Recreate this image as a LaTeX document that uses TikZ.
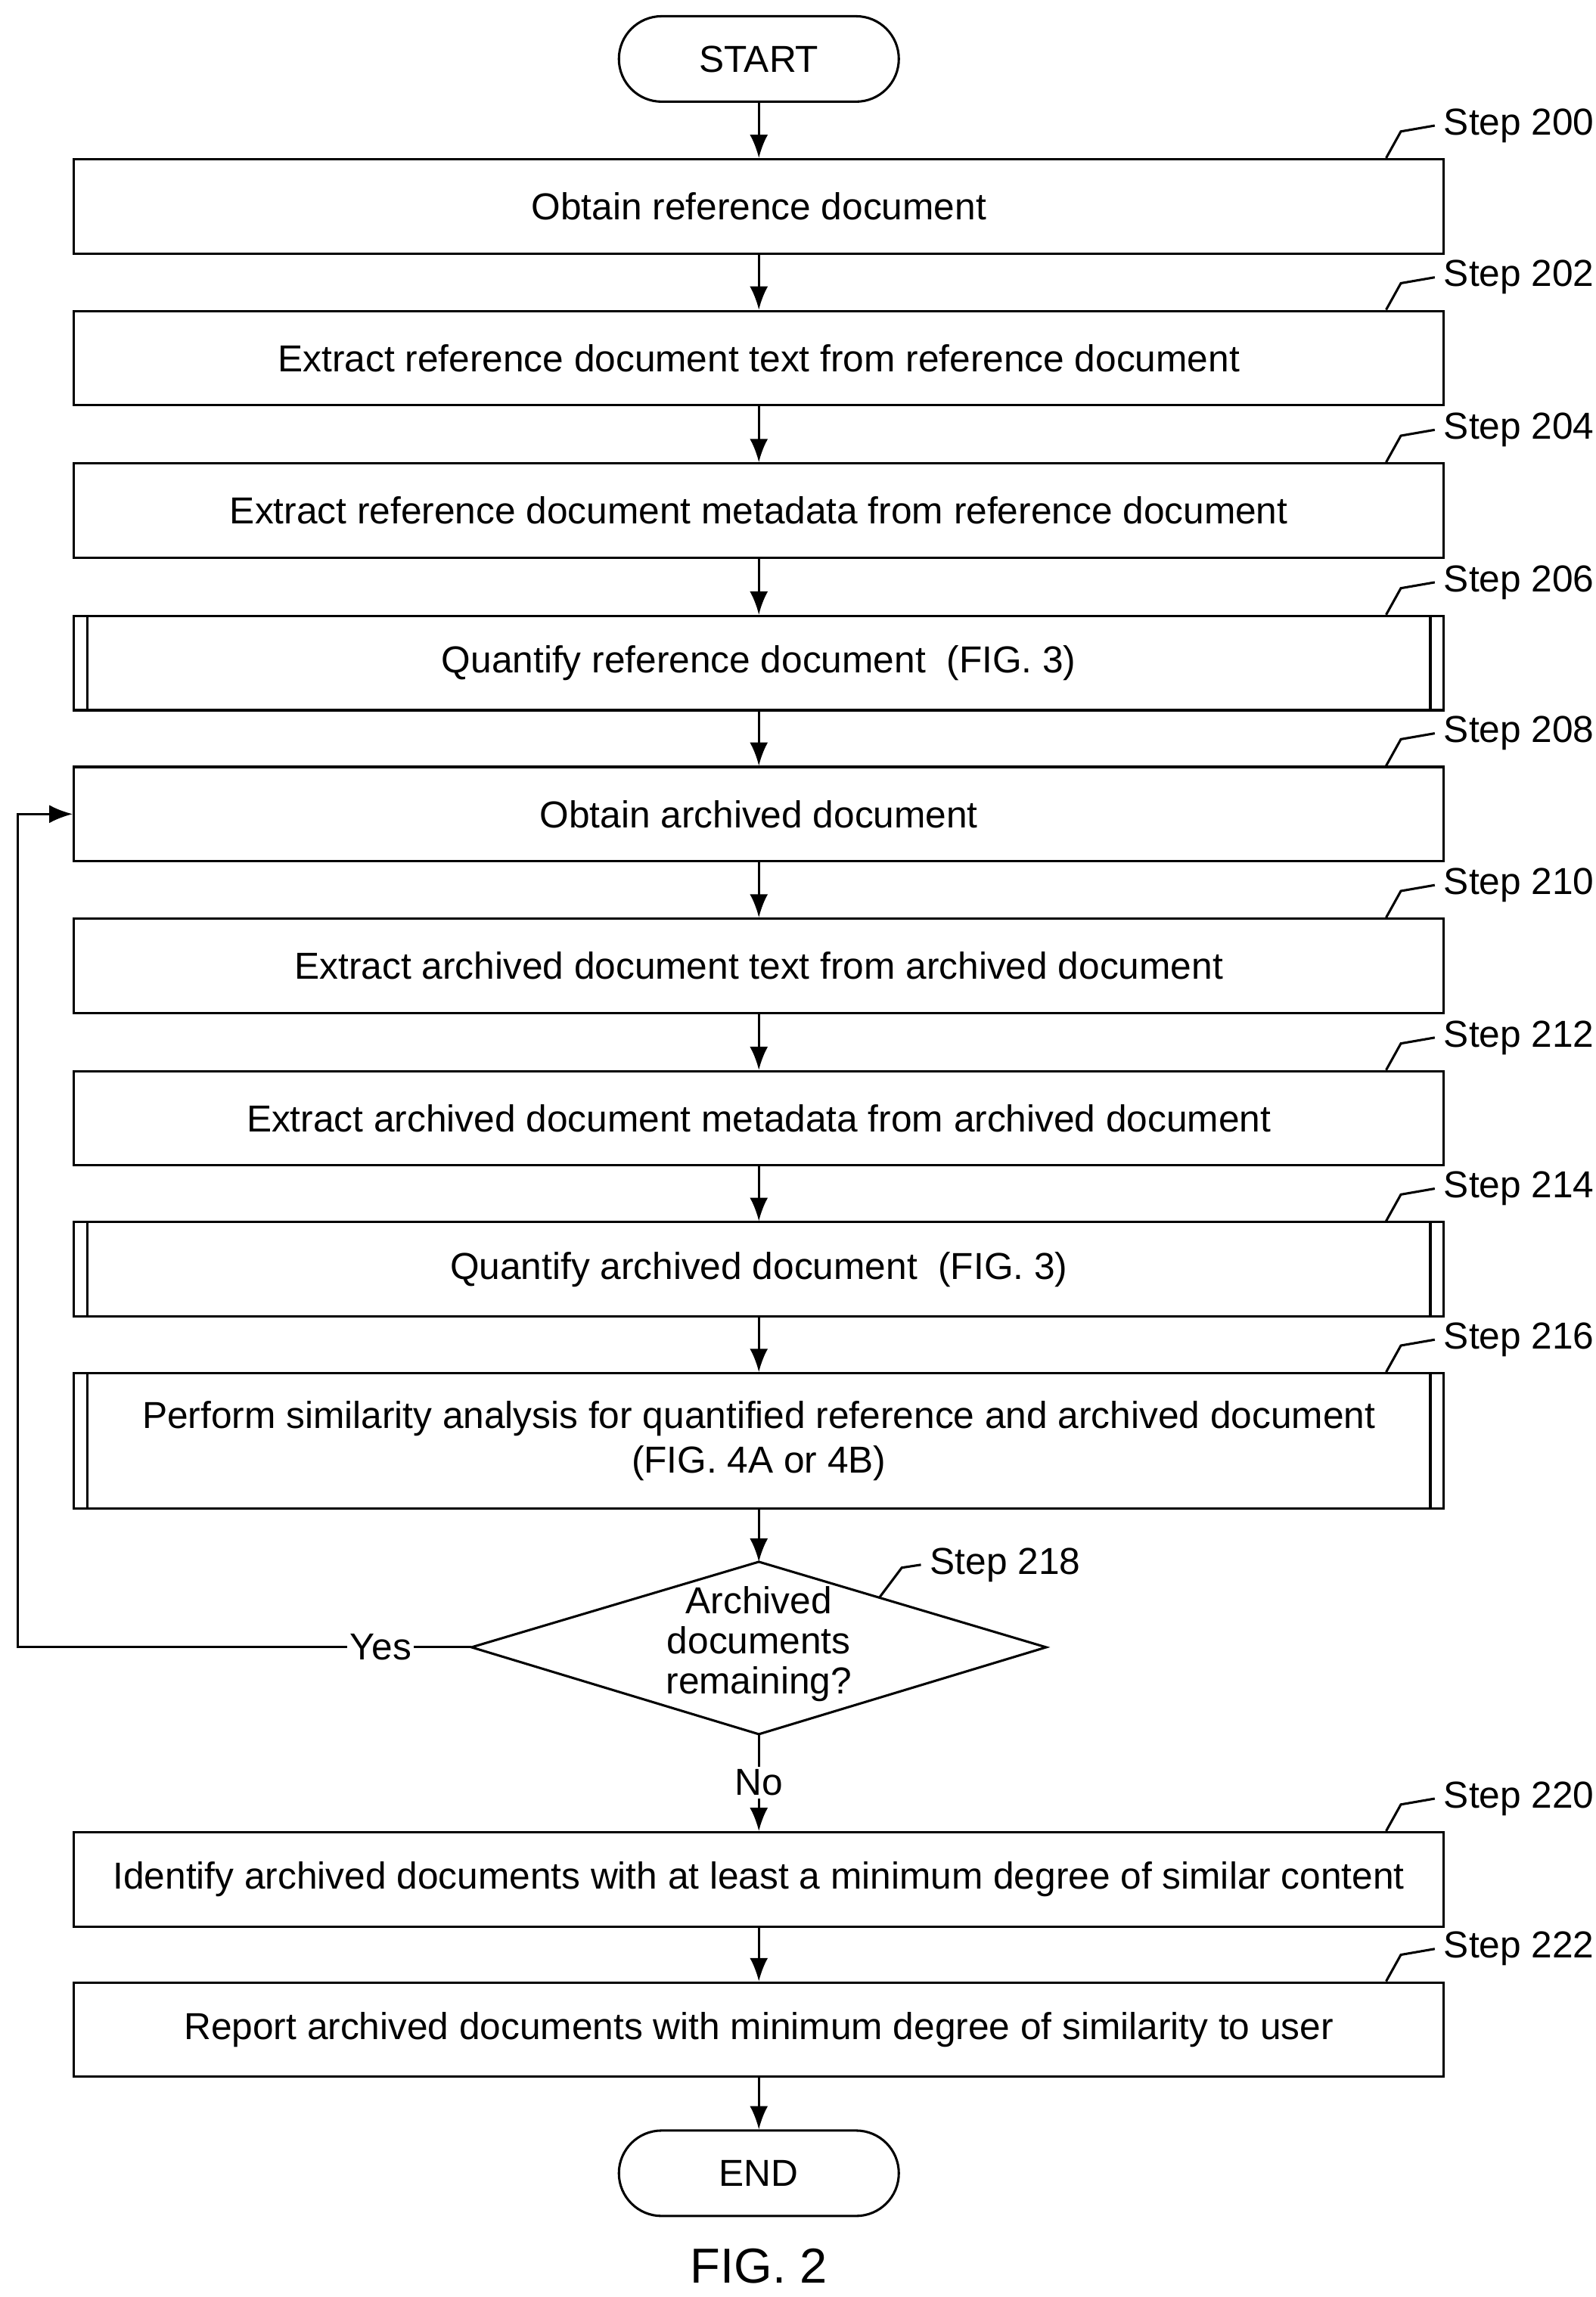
\documentclass[tikz,border=0pt]{standalone}
\usepackage{fontspec}
\setmainfont{Liberation Sans}
\usetikzlibrary{positioning,shapes,arrows.meta}
\begin{document}
\begin{tikzpicture}[x=0.02cm,y=-0.02cm,font=\fontsize{14.5}{17}\selectfont,
    box/.style={draw,line width=0.9pt,minimum width=18.6cm,minimum height=1.28cm,align=center},
    term/.style={draw,line width=0.9pt,rounded corners=0.58cm,minimum width=3.8cm,minimum height=1.16cm},
    arr/.style={-{Latex[length=9pt,width=7pt]},line width=0.9pt},
    lead/.style={line width=0.9pt}]
\useasboundingbox (0,0) rectangle (1083,1559);
\node [term] (start) at (515,40) {START};
\node [box] (s200) at (515,140) {Obtain reference document};
\node [box] (s202) at (515,243) {Extract reference document text from reference document};
\node [box] (s204) at (515,346.5) {Extract reference document metadata from reference document};
\node [box] (s206) at (515,450) {Quantify reference document\ \ (FIG. 3)};
\node [box] (s208) at (515,552.5) {Obtain archived document};
\node [box] (s210) at (515,655.5) {Extract archived document text from archived document};
\node [box] (s212) at (515,759) {Extract archived document metadata from archived document};
\node [box] (s214) at (515,861.5) {Quantify archived document\ \ (FIG. 3)};
\node [box,minimum height=1.84cm] (s216) at (515,978) {Perform similarity analysis for quantified reference and archived document\\(FIG. 4A or 4B)};
% decision
\coordinate (dtop) at (515,1060);
\coordinate (dleft) at (320,1118);
\coordinate (dright) at (710,1118);
\coordinate (dbot) at (515,1177);
\draw [line width=0.9pt] (dtop) -- (dright) -- (dbot) -- (dleft) -- cycle;
\node [align=center,font=\fontsize{14.5}{15.5}\selectfont] (s218) at (515,1116) {Archived\\documents\\remaining?};
\node [box] (s220) at (515,1275.5) {Identify archived documents with at least a minimum degree of similar content};
\node [box] (s222) at (515,1377.5) {Report archived documents with minimum degree of similarity to user};
\node [term] (end) at (515,1475) {END};
\node [font=\fontsize{19}{22}\selectfont] (fig) at (515,1538) {FIG. 2};
% double side bars
\foreach \n in {s206,s214,s216} {
  \draw [line width=0.9pt] ([xshift=0.2cm]\n.north west) -- ([xshift=0.2cm]\n.south west);
  \draw [line width=0.9pt] ([xshift=-0.2cm]\n.north east) -- ([xshift=-0.2cm]\n.south east);
}
% connectors
\draw [arr] (start) -- (s200);
\draw [arr] (s200) -- (s202);
\draw [arr] (s202) -- (s204);
\draw [arr] (s204) -- (s206);
\draw [arr] (s206) -- (s208);
\draw [arr] (s208) -- (s210);
\draw [arr] (s210) -- (s212);
\draw [arr] (s212) -- (s214);
\draw [arr] (s214) -- (s216);
\draw [arr] (s216) -- (dtop);
\draw [arr] (dbot) -- node [fill=white,inner sep=1pt] (no) {No} (s220);
\draw [arr] (s220) -- (s222);
\draw [arr] (s222) -- (end);
\coordinate (loop) at (12,1118);
\draw [arr] (dleft) -- node [pos=0.2,fill=white,inner sep=1pt] (yes) {Yes} (loop) |- (s208.west);
% step labels
\foreach \n/\t in {s200/200,s202/202,s204/204,s206/206,s208/208,s210/210,s212/212,s214/214,s216/216,s220/220,s222/222} {
  \node [anchor=west] (l\t) at ([xshift=-0.14cm,yshift=0.44cm]\n.north east) {Step \t};
  \draw [lead] ([xshift=-0.8cm]\n.north east) -- ++(10,-18) -- (l\t.west);
}
\node [anchor=west] (l218) at (625,1062) {Step 218};
\draw [lead] (597,1084) -- (612,1064) -- (l218.west);
\end{tikzpicture}
\end{document}
